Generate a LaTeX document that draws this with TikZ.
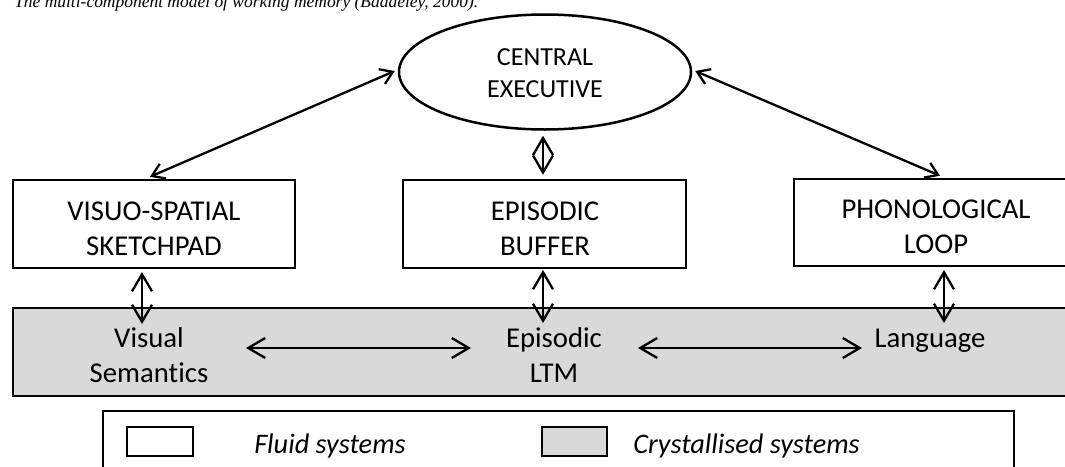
\documentclass[tikz,border=0pt]{standalone}
\usepackage{fontspec}
\setmainfont{Carlito}[Ligatures=NoCommon]
\newfontfamily\capfont{Liberation Serif}
\usetikzlibrary{arrows.meta,shapes.geometric}
\definecolor{bandgray}{HTML}{D9D9D9}
\begin{document}
\begin{tikzpicture}[x=1pt,y=-1pt,line width=2.5pt,
  every node/.style={font=\fontsize{28.7}{35}\selectfont},
  box/.style={draw,rectangle,inner sep=0pt,line width=2.5pt},
  txt/.style={anchor=base,align=center,inner sep=0pt},
  legtxt/.style={anchor=base west,inner sep=0pt,font=\fontsize{28.3}{34}\selectfont\itshape},
  arr/.style={{Straight Barb[length=17pt,width=20pt]}-{Straight Barb[length=17pt,width=20pt]},line width=2.3pt},
  darr/.style={{Straight Barb[length=12pt,width=16pt]}-{Straight Barb[length=12pt,width=16pt]},line width=2.3pt}]
\useasboundingbox (0,0) rectangle (1065,466);
\clip (0,0) rectangle (1065,466);
% caption
\node[anchor=base west,inner sep=0pt] (cap) at (13,7)
  {\resizebox{464pt}{!}{\capfont\itshape The multi-component model of working memory (Baddeley, 2000).}};
% central executive
\node[draw,ellipse,inner sep=0pt,line width=2.5pt,minimum width=292pt,minimum height=115pt] (ce) at (545,72) {};
\node[txt,font=\fontsize{26}{32}\selectfont] (cel) at (545,97) {CENTRAL\\EXECUTIVE};
% boxes
\node[box,minimum width=282pt,minimum height=88pt] (vs) at (154,224) {};
\node[box,minimum width=283pt,minimum height=88pt] (eb) at (544.5,224) {};
\node[box,minimum width=286pt,minimum height=87pt] (pl) at (937,222.5) {};
\node[txt] (vsl) at (154,255) {VISUO-SPATIAL\\SKETCHPAD};
\node[txt] (ebl) at (545,255) {EPISODIC\\BUFFER};
\node[txt] (pll) at (936,253) {PHONOLOGICAL\\LOOP};
% crystallised band
\node[box,fill=bandgray,minimum width=1067pt,minimum height=88pt] (band) at (546.5,352) {};
\node[txt] (vstx) at (149,382) {Visual\\Semantics};
\node[txt] (eltx) at (554,382) {Episodic\\LTM};
\node[txt] (lgtx) at (930,347) {Language};
% legend
\node[box,minimum width=911pt,minimum height=79pt] (leg) at (558.5,450.5) {};
\node[box,minimum width=66pt,minimum height=29pt] (sw1) at (160,441.5) {};
\node[box,fill=bandgray,minimum width=65pt,minimum height=29pt] (sw2) at (574.5,441.5) {};
\node[legtxt] (fl) at (253,453) {Fluid systems};
\node[legtxt] (cr) at (632,453) {Crystallised systems};
% coordinates
\coordinate (vsOut) at (142,272);
\coordinate (vsIn) at (142,324);
\coordinate (ebOut) at (543,270);
\coordinate (ebIn) at (543,323);
\coordinate (plOut) at (944,270);
\coordinate (plIn) at (944,323);
\coordinate (hA) at (246,348);
\coordinate (hB) at (471,348);
\coordinate (hC) at (638,348);
\coordinate (hD) at (862,348);
% connectors
\draw[darr] ([xshift=-3pt,yshift=1pt]ce.west) -- ([xshift=-4pt,yshift=2pt]vs.north);
\draw[darr] ([xshift=3pt,yshift=1pt]ce.east) -- ([xshift=3pt,yshift=2pt]pl.north);
\draw[arr] ([xshift=-2pt,yshift=-5pt]ce.south) -- ([xshift=-1.5pt,yshift=4pt]eb.north);
\draw[arr] (vsOut) -- (vsIn);
\draw[arr] (ebOut) -- (ebIn);
\draw[arr] (plOut) -- (plIn);
\draw[arr] (hA) -- (hB);
\draw[arr] (hC) -- (hD);
\end{tikzpicture}
\end{document}
